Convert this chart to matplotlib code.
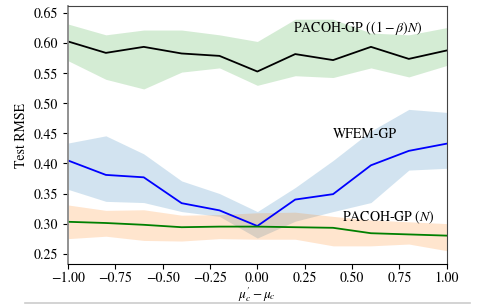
import numpy as np
import matplotlib
matplotlib.use("Agg")
import matplotlib.pyplot as plt
from matplotlib.lines import Line2D

plt.rcParams['font.family'] = ['STIXGeneral', 'Liberation Serif', 'DejaVu Serif']
plt.rcParams['mathtext.fontset'] = 'stix'
plt.rcParams['font.size'] = 10
plt.rcParams['axes.unicode_minus'] = True

# x axis: mu'_c - mu_c
shift = [-1.0, -0.8, -0.6, -0.4, -0.2, 0.0, 0.2, 0.4, 0.6, 0.8, 1.0]

# PACOH-GP ((1-beta)N)
pacoh_beta_mean = [0.603, 0.584, 0.594, 0.583, 0.579, 0.553, 0.582, 0.572, 0.594, 0.574, 0.588]
pacoh_beta_low = [0.571, 0.540, 0.524, 0.552, 0.559, 0.530, 0.546, 0.543, 0.559, 0.544, 0.563]
pacoh_beta_high = [0.632, 0.614, 0.622, 0.622, 0.614, 0.603, 0.640, 0.640, 0.617, 0.614, 0.626]

# WFEM-GP
wfem_mean = [0.405, 0.381, 0.377, 0.334, 0.322, 0.296, 0.340, 0.349, 0.397, 0.421, 0.433]
wfem_low = [0.357, 0.337, 0.335, 0.320, 0.312, 0.276, 0.304, 0.320, 0.335, 0.389, 0.392]
wfem_high = [0.434, 0.446, 0.416, 0.371, 0.350, 0.320, 0.360, 0.405, 0.454, 0.490, 0.485]

# PACOH-GP (N)
pacoh_n_mean = [0.303, 0.301, 0.298, 0.294, 0.295, 0.295, 0.294, 0.293, 0.284, 0.282, 0.280]
pacoh_n_low = [0.275, 0.279, 0.272, 0.271, 0.275, 0.274, 0.274, 0.263, 0.263, 0.266, 0.255]
pacoh_n_high = [0.331, 0.322, 0.323, 0.314, 0.315, 0.318, 0.319, 0.312, 0.306, 0.303, 0.300]

x_ticks = [-1.0, -0.75, -0.5, -0.25, 0.0, 0.25, 0.5, 0.75, 1.0]
y_ticks = [0.25, 0.30, 0.35, 0.40, 0.45, 0.50, 0.55, 0.60, 0.65]


def fmt(v, pos):
    return ('%.2f' % v).replace('-', '\u2212')


fig = plt.figure(figsize=(4.9, 3.04), dpi=100)
ax = fig.add_axes([0.1388, 0.13, 0.7728, 0.8503])

ax.fill_between(shift, pacoh_beta_low, pacoh_beta_high, color='tab:green', alpha=0.2, lw=0)
ax.plot(shift, pacoh_beta_mean, color='black', lw=1.3)

ax.fill_between(shift, wfem_low, wfem_high, color='tab:blue', alpha=0.2, lw=0)
ax.fill_between(shift, pacoh_n_low, pacoh_n_high, color='tab:orange', alpha=0.2, lw=0)
ax.plot(shift, wfem_mean, color='blue', lw=1.3)
ax.plot(shift, pacoh_n_mean, color='green', lw=1.3)

ax.text(0.53, 0.625, r'PACOH-GP $((1-\beta)N)$', ha='center', va='center')
ax.text(0.568, 0.449, 'WFEM-GP', ha='center', va='center')
ax.text(0.69, 0.310, r'PACOH-GP $(N)$', ha='center', va='center')

ax.set_xlim(-1.0, 1.0)
ax.set_ylim(0.232, 0.662)
ax.set_xticks(x_ticks)
ax.set_yticks(y_ticks)
ax.xaxis.set_major_formatter(plt.FuncFormatter(fmt))
ax.yaxis.set_major_formatter(plt.FuncFormatter(fmt))
ax.tick_params(axis='x', pad=2)
ax.set_xlabel(r"$\mu_c' - \mu_c$", labelpad=-0.3, fontsize=9.5)
ax.set_ylabel('Test RMSE')

ax.spines['left'].set_color('#888888')
ax.spines['left'].set_linewidth(1.3)
ax.spines['top'].set_color('#444444')
ax.spines['right'].set_color('#444444')

fig.add_artist(Line2D([0.05, 0.96], [0.004, 0.004], color='#cccccc', lw=1.2))

fig.savefig('out.png', dpi=100)
